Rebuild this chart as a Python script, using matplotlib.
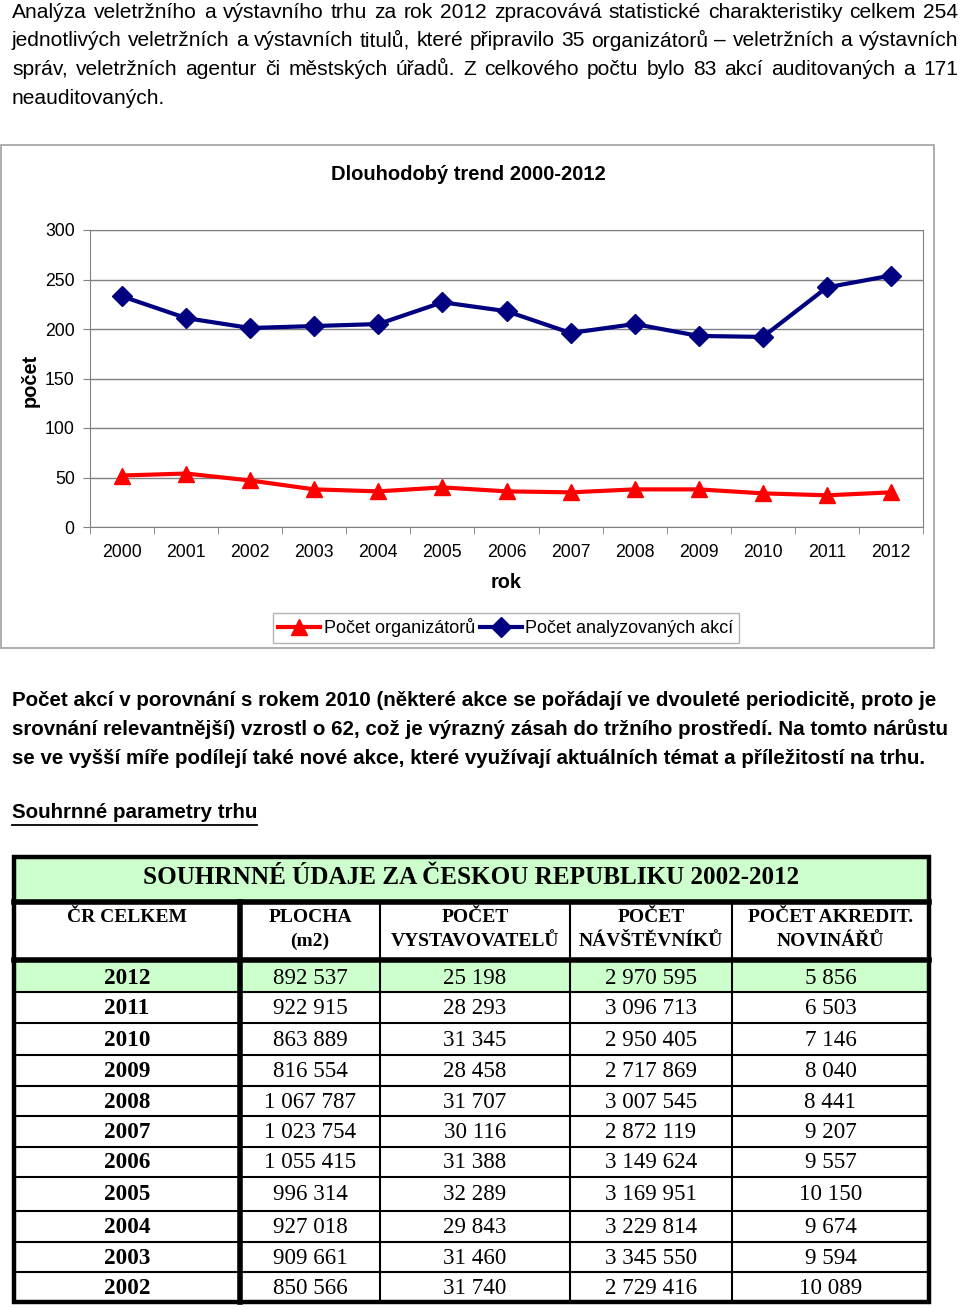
import matplotlib.pyplot as plt
from matplotlib.patches import Rectangle

# chart data
years = [2000, 2001, 2002, 2003, 2004, 2005, 2006, 2007, 2008, 2009, 2010, 2011, 2012]
organizatori = [52, 54, 47, 38, 36, 40, 36, 35, 38, 38, 34, 32, 35]
akce = [233, 211, 201, 203, 205, 227, 218, 196, 205, 193, 192, 242, 254]
y_ticks = [0, 50, 100, 150, 200, 250, 300]

# table data
tab_title = "SOUHRNNÉ ÚDAJE ZA ČESKOU REPUBLIKU 2002-2012"
tab_head = [["ČR CELKEM"], ["PLOCHA", "(m2)"], ["POČET", "VYSTAVOVATELŮ"],
            ["POČET", "NÁVŠTĚVNÍKŮ"], ["POČET AKREDIT.", "NOVINÁŘŮ"]]
tab_years = ["2012", "2011", "2010", "2009", "2008", "2007", "2006", "2005", "2004", "2003", "2002"]
plocha = ["892 537", "922 915", "863 889", "816 554", "1 067 787", "1 023 754",
          "1 055 415", "996 314", "927 018", "909 661", "850 566"]
vystavovatele = ["25 198", "28 293", "31 345", "28 458", "31 707", "30 116",
                 "31 388", "32 289", "29 843", "31 460", "31 740"]
navstevnici = ["2 970 595", "3 096 713", "2 950 405", "2 717 869", "3 007 545", "2 872 119",
               "3 149 624", "3 169 951", "3 229 814", "3 345 550", "2 729 416"]
novinari = ["5 856", "6 503", "7 146", "8 040", "8 441", "9 207",
            "9 557", "10 150", "9 674", "9 594", "10 089"]

intro = ["Analýza veletržního a výstavního trhu za rok 2012 zpracovává statistické charakteristiky celkem 254",
         "jednotlivých veletržních a výstavních titulů, které připravilo 35 organizátorů – veletržních a výstavních",
         "správ, veletržních agentur či městských úřadů. Z celkového počtu bylo 83 akcí auditovaných a 171",
         "neauditovaných."]
bold_par = ["Počet akcí v porovnání s rokem 2010 (některé akce se pořádají ve dvouleté periodicitě, proto je",
            "srovnání relevantnější) vzrostl o 62, což je výrazný zásah do tržního prostředí. Na tomto nárůstu",
            "se ve vyšší míře podílejí také nové akce, které využívají aktuálních témat a příležitostí na trhu."]

sans = ['Liberation Sans', 'DejaVu Sans']
serif = ['Liberation Serif', 'DejaVu Serif']

W, H = 960, 1309
fig = plt.figure(figsize=(W / 100, H / 100), dpi=100)

# overlay axes in pixel coordinates for the page text and the table
pg = fig.add_axes([0, 0, 1, 1], zorder=0)
pg.set_xlim(0, W)
pg.set_ylim(H, 0)
pg.axis('off')

renderer = fig.canvas.get_renderer()


def text_width(s, fs, weight='normal'):
    t = pg.text(0, 0, s, fontsize=fs, family=sans, weight=weight)
    w = t.get_window_extent(renderer).width
    t.remove()
    return w


def fit_size(s, target, weight='normal'):
    return 16 * target / text_width(s, 16, weight)


def justify(line, y, x0, x1, fs, weight='normal'):
    words = line.split(' ')
    objs = [pg.text(0, y, w, fontsize=fs, family=sans, weight=weight, va='center') for w in words]
    widths = [t.get_window_extent(renderer).width for t in objs]
    gap = (x1 - x0 - sum(widths)) / max(len(words) - 1, 1)
    x = x0
    for t, w in zip(objs, widths):
        t.set_x(x)
        x += w + gap


fs_intro = min(fit_size(intro[0], 940), fit_size(intro[1], 940))
for i, line in enumerate(intro):
    y = 12 + i * 28.7
    if i < len(intro) - 1:
        justify(line, y, 12, 958, fs_intro)
    else:
        pg.text(12, y, line, fontsize=fs_intro, family=sans, va='center')

fs_bold = fit_size(bold_par[1], 936, 'bold')
for i, line in enumerate(bold_par):
    pg.text(12, 700 + i * 29, line, fontsize=fs_bold, family=sans, weight='bold', va='center')

t = pg.text(12, 813, "Souhrnné parametry trhu", fontsize=fs_bold, family=sans, weight='bold', va='center')
bb = t.get_window_extent(renderer)
pg.plot([12, 12 + bb.width], [825, 825], color='black', lw=1.3)

# chart frame
pg.add_patch(Rectangle((1, 145), 933, 503, fill=False, edgecolor='#a0a0a0', lw=1.2))

ax = fig.add_axes([90 / W, 1 - 527 / H, (923 - 90) / W, (527 - 230) / H], zorder=2)
ax.patch.set_alpha(0)
x = list(range(len(years)))
ax.plot(x, organizatori, color='#ff0000', lw=3, marker='^', ms=12, label='Počet organizátorů')
ax.plot(x, akce, color='#000080', lw=3, marker='D', ms=10, label='Počet analyzovaných akcí')
ax.set_xlim(-0.5, len(years) - 0.5)
ax.set_ylim(0, 300)
ax.set_yticks(y_ticks)
ax.set_yticklabels([str(v) for v in y_ticks], family=sans, fontsize=12.7)
ax.set_xticks(x)
ax.set_xticklabels([str(v) for v in years], family=sans, fontsize=12.7)
ax.set_xticks([i - 0.5 for i in range(len(years) + 1)], minor=True)
ax.tick_params(axis='x', which='major', length=0, pad=12)
ax.tick_params(axis='x', which='minor', length=5, color='#808080')
ax.tick_params(axis='y', length=5, color='#808080', pad=6)
ax.grid(axis='y', color='#808080', lw=1)
for s in ax.spines.values():
    s.set_color('#808080')
ax.set_axisbelow(True)

fig.text(468 / W, 1 - 175 / H, "Dlouhodobý trend 2000-2012", family=sans, weight='bold',
         fontsize=14.5, ha='center', va='center')
fig.text(30 / W, 1 - 380 / H, "počet", family=sans, weight='bold', fontsize=14.4,
         rotation=90, ha='center', va='center')
fig.text(506 / W, 1 - 583 / H, "rok", family=sans, weight='bold', fontsize=14.4,
         ha='center', va='center')
leg = fig.legend(loc='center', bbox_to_anchor=(506 / W, 1 - 628 / H), ncol=2, frameon=True,
                 fancybox=False, edgecolor='#a0a0a0', prop={'family': sans, 'size': 13},
                 handlelength=2.3, handletextpad=0.2, columnspacing=0.3, borderpad=0.3,
                 borderaxespad=0, numpoints=1)
leg.get_frame().set_linewidth(1)

# table
green = '#ccffcc'
cols = [14, 240, 380, 570, 732, 929]
rows = [963, 992, 1023, 1055, 1086, 1116, 1147, 1177, 1211, 1242, 1272, 1302]
top, title_b, head_b = 857, 902, 960

pg.add_patch(Rectangle((cols[0], top), cols[-1] - cols[0], title_b - top, color=green, lw=0))
pg.add_patch(Rectangle((cols[0], rows[0]), cols[-1] - cols[0], rows[1] - rows[0], color=green, lw=0))

for r in rows[1:-1]:
    pg.plot([cols[0], cols[-1]], [r, r], color='black', lw=1.5)
for c in cols[2:-1]:
    pg.plot([c, c], [title_b, rows[-1]], color='black', lw=1.5)
pg.plot([cols[1], cols[1]], [title_b, rows[-1]], color='black', lw=4)
pg.plot([cols[0], cols[-1]], [title_b, title_b], color='black', lw=4)
pg.plot([cols[0], cols[-1]], [head_b, head_b], color='black', lw=4)
pg.add_patch(Rectangle((cols[0], top), cols[-1] - cols[0], rows[-1] - top, fill=False,
                       edgecolor='black', lw=3.2))

pg.text((cols[0] + cols[-1]) / 2, 878, tab_title, family=serif, weight='bold', fontsize=18.1,
        ha='center', va='center')

for j, head in enumerate(tab_head):
    cx = (cols[j] + cols[j + 1]) / 2
    for k, part in enumerate(head):
        pg.text(cx, 917 + k * 24, part, family=serif, weight='bold', fontsize=14,
                ha='center', va='center')

columns = [plocha, vystavovatele, navstevnici, novinari]
for i, yr in enumerate(tab_years):
    cy = (rows[i] + rows[i + 1]) / 2 + 1
    pg.text((cols[0] + cols[1]) / 2, cy, yr, family=serif, weight='bold', fontsize=16.7,
            ha='center', va='center')
    for j, col in enumerate(columns):
        cx = (cols[j + 1] + cols[j + 2]) / 2
        pg.text(cx, cy, col[i], family=serif, fontsize=16.6, ha='center', va='center')

fig.savefig('out.png', dpi=100)
